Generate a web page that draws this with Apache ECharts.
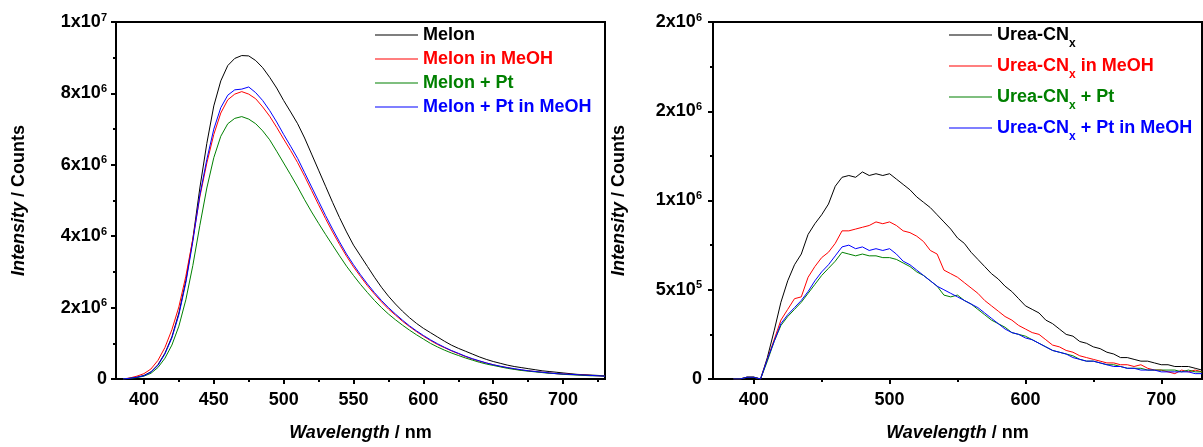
<!DOCTYPE html>
<html>
<head>
<meta charset="utf-8">
<script src="https://cdn.jsdelivr.net/npm/echarts@6/dist/echarts.min.js"></script>
<style>
html,body{margin:0;padding:0;background:#fff;}
#chart{width:1203px;height:447px;}
</style>
</head>
<body>
<div id="chart"></div>
<script>
// ---------- data (intensity in units of 10^6 counts) ----------
const wavelengths = [385,390,395,400,405,410,415,420,425,430,435,440,445,450,455,460,465,470,475,480,485,490,495,500,505,510,515,520,525,530,535,540,545,550,555,560,565,570,575,580,585,590,595,600,605,610,615,620,625,630,635,640,645,650,655,660,665,670,675,680,685,690,695,700,705,710,715,720,725,730];

const melon = [0.00,0.02,0.05,0.10,0.20,0.40,0.72,1.18,1.85,2.75,3.92,5.35,6.60,7.65,8.35,8.78,8.98,9.06,9.05,8.92,8.72,8.45,8.15,7.80,7.48,7.15,6.75,6.30,5.85,5.40,4.95,4.52,4.12,3.75,3.45,3.15,2.85,2.57,2.32,2.10,1.90,1.72,1.56,1.42,1.30,1.18,1.06,0.95,0.86,0.78,0.70,0.62,0.55,0.49,0.44,0.39,0.35,0.32,0.29,0.26,0.23,0.21,0.19,0.17,0.15,0.13,0.12,0.11,0.10,0.09];
const melonMeOH = [0.00,0.03,0.08,0.15,0.28,0.52,0.88,1.38,2.02,2.88,3.92,5.10,6.05,6.85,7.45,7.82,7.98,8.05,7.98,7.85,7.62,7.36,7.05,6.72,6.40,6.06,5.68,5.28,4.88,4.49,4.12,3.77,3.44,3.14,2.87,2.61,2.38,2.16,1.96,1.79,1.62,1.47,1.33,1.20,1.08,0.97,0.88,0.79,0.71,0.63,0.56,0.50,0.45,0.40,0.35,0.32,0.28,0.25,0.23,0.21,0.19,0.17,0.15,0.14,0.13,0.12,0.11,0.10,0.09,0.08];
const melonPt = [0.00,0.02,0.04,0.08,0.16,0.32,0.58,0.95,1.48,2.22,3.18,4.30,5.35,6.20,6.80,7.15,7.30,7.35,7.28,7.15,6.95,6.70,6.38,6.05,5.72,5.38,5.02,4.68,4.36,4.05,3.75,3.45,3.16,2.90,2.65,2.42,2.20,2.00,1.82,1.66,1.51,1.37,1.24,1.12,1.00,0.90,0.81,0.73,0.66,0.59,0.53,0.47,0.42,0.38,0.34,0.30,0.27,0.24,0.22,0.20,0.18,0.16,0.15,0.13,0.12,0.11,0.10,0.09,0.09,0.08];
const melonPtMeOH = [0.00,0.02,0.05,0.09,0.19,0.38,0.70,1.15,1.80,2.70,3.85,5.15,6.15,7.00,7.60,7.95,8.10,8.12,8.18,8.02,7.80,7.52,7.20,6.85,6.52,6.18,5.78,5.38,4.98,4.58,4.20,3.84,3.50,3.20,2.92,2.66,2.42,2.20,2.00,1.82,1.65,1.49,1.35,1.22,1.10,0.99,0.89,0.80,0.72,0.64,0.57,0.51,0.45,0.40,0.36,0.32,0.29,0.26,0.23,0.21,0.19,0.17,0.15,0.14,0.13,0.12,0.11,0.10,0.09,0.08];

const urea = [0.00,0.00,0.01,0.01,0.00,0.12,0.27,0.43,0.55,0.64,0.70,0.81,0.87,0.92,0.98,1.08,1.13,1.14,1.13,1.16,1.14,1.15,1.14,1.15,1.12,1.09,1.06,1.02,0.99,0.96,0.92,0.88,0.84,0.79,0.76,0.71,0.67,0.63,0.59,0.56,0.52,0.49,0.45,0.41,0.39,0.37,0.33,0.31,0.28,0.25,0.24,0.21,0.20,0.18,0.17,0.15,0.14,0.12,0.12,0.11,0.10,0.10,0.09,0.08,0.08,0.07,0.07,0.07,0.06,0.05];
const ureaMeOH = [0.00,0.00,0.01,0.01,0.00,0.11,0.22,0.33,0.39,0.45,0.46,0.57,0.63,0.68,0.71,0.76,0.83,0.83,0.84,0.85,0.86,0.88,0.87,0.88,0.86,0.83,0.82,0.80,0.77,0.72,0.70,0.61,0.59,0.57,0.54,0.51,0.48,0.44,0.41,0.38,0.35,0.33,0.30,0.28,0.26,0.25,0.22,0.19,0.18,0.16,0.15,0.13,0.12,0.11,0.10,0.09,0.09,0.08,0.08,0.07,0.08,0.06,0.05,0.05,0.04,0.03,0.05,0.04,0.05,0.04];
const ureaPt = [0.00,0.00,0.01,0.01,0.00,0.10,0.21,0.30,0.35,0.39,0.43,0.48,0.53,0.58,0.62,0.66,0.71,0.70,0.69,0.70,0.69,0.69,0.68,0.68,0.67,0.65,0.63,0.60,0.58,0.55,0.52,0.47,0.46,0.47,0.44,0.42,0.39,0.36,0.33,0.31,0.29,0.26,0.25,0.24,0.22,0.20,0.18,0.16,0.15,0.14,0.13,0.11,0.10,0.10,0.09,0.08,0.08,0.07,0.06,0.06,0.06,0.05,0.05,0.05,0.05,0.05,0.04,0.05,0.04,0.04];
const ureaPtMeOH = [0.00,0.00,0.01,0.01,0.00,0.11,0.21,0.31,0.36,0.40,0.44,0.49,0.55,0.60,0.64,0.69,0.74,0.75,0.73,0.74,0.72,0.73,0.72,0.73,0.70,0.66,0.64,0.61,0.58,0.55,0.52,0.50,0.48,0.46,0.44,0.42,0.40,0.37,0.34,0.31,0.28,0.26,0.25,0.23,0.22,0.20,0.18,0.16,0.15,0.14,0.12,0.11,0.10,0.10,0.09,0.08,0.07,0.07,0.06,0.06,0.05,0.05,0.05,0.04,0.04,0.04,0.04,0.04,0.03,0.03];

// ---------- tick labels ----------
const leftXMajor = [400,450,500,550,600,650,700];
const leftXMinor = [425,475,525,575,625,675,725];
const rightXMajor = [400,500,600,700];
const rightXMinor = [450,550,650];
const leftYTicks = [0,2,4,6,8,10];
const leftYMant = ['0','2x10','4x10','6x10','8x10','1x10'];
const leftYExp = ['','6','6','6','6','7'];
const rightYTicks = [0,0.5,1,1.5,2];
const rightYMant = ['0','5x10','1x10','2x10','2x10'];
const rightYExp = ['','5','6','6','6'];

const leftNames = ['Melon','Melon in MeOH','Melon + Pt','Melon + Pt in MeOH'];
const rightNames = ['Urea-CNx','Urea-CNx in MeOH','Urea-CNx + Pt','Urea-CNx + Pt in MeOH'];
const rightNameTail = ['',' in MeOH',' + Pt',' + Pt in MeOH'];
const colors = ['#000000','#ff0000','#008000','#0000ff'];

// ---------- helpers ----------
const FONT = 'Liberation Sans, Arial, Helvetica, sans-serif';
function pairs(ys){ return wavelengths.map((x,i)=>[x, ys[i]]); }
function expFormatter(ticks, mant, exp){
  return function(v){
    const i = ticks.findIndex(t => Math.abs(t - v) < 1e-6);
    if (i < 0) return '';
    return exp[i] ? '{m|' + mant[i] + '}{e|' + exp[i] + '}' : '{m|' + mant[i] + '}';
  };
}
const yRich = {
  m: {fontSize: 18, fontWeight: 'bold', fontFamily: FONT, color: '#000', lineHeight: 20},
  e: {fontSize: 11, fontWeight: 'bold', fontFamily: FONT, color: '#000', lineHeight: 11, verticalAlign: 'top'}
};
const nameStyle = (extra) => Object.assign({
  fontSize: 18, fontWeight: 'bold', fontFamily: FONT, color: '#000',
  rich: {i: {fontSize: 18, fontWeight: 'bold', fontStyle: 'italic', fontFamily: FONT, color: '#000'}}
}, extra || {});

function xMain(grid, min, max, major){
  return {
    type: 'value', gridIndex: grid, min: min, max: max, position: 'bottom',
    splitLine: {show: false},
    axisLine: {show: true, onZero: false, lineStyle: {color: '#000', width: 2}},
    axisTick: {show: true, inside: false, length: 5, lineStyle: {color: '#000', width: 2}, customValues: major},
    axisLabel: {show: true, margin: 12, fontSize: 18, fontWeight: 'bold', fontFamily: FONT, color: '#000', customValues: major, formatter: v => String(v)},
    name: '{i|Wavelength} / nm', nameLocation: 'middle', nameGap: 45, nameTextStyle: nameStyle()
  };
}
function xMinor(grid, min, max, minor){
  return {
    type: 'value', gridIndex: grid, min: min, max: max, position: 'bottom',
    splitLine: {show: false},
    axisLine: {show: false, onZero: false},
    axisTick: {show: true, inside: false, length: 3, lineStyle: {color: '#000', width: 2}, customValues: minor},
    axisLabel: {show: false}
  };
}
function yAxis(grid, max, interval, ticks, mant, exp, margin, gap){
  return {
    type: 'value', gridIndex: grid, min: 0, max: max, interval: interval,
    splitLine: {show: false},
    axisLine: {show: true, onZero: false, lineStyle: {color: '#000', width: 2}},
    axisTick: {show: true, inside: false, length: 5, lineStyle: {color: '#000', width: 2}},
    minorTick: {show: true, splitNumber: 2, length: 3, lineStyle: {color: '#000', width: 2}},
    axisLabel: {margin: margin, formatter: expFormatter(ticks, mant, exp), rich: yRich},
    name: '{i|Intensity} / Counts', nameLocation: 'middle', nameGap: gap, nameTextStyle: nameStyle()
  };
}

const leftSeriesData = [melon, melonMeOH, melonPt, melonPtMeOH];
const rightSeriesData = [urea, ureaMeOH, ureaPt, ureaPtMeOH];
const series = [];
leftSeriesData.forEach((d,i)=>series.push({
  name: leftNames[i], type: 'line', xAxisIndex: 0, yAxisIndex: 0, data: pairs(d),
  showSymbol: false, symbol: 'none', lineStyle: {width: 1, color: colors[i]}, itemStyle: {color: colors[i]}
}));
rightSeriesData.forEach((d,i)=>series.push({
  name: rightNames[i], type: 'line', xAxisIndex: 2, yAxisIndex: 1, data: pairs(d),
  showSymbol: false, symbol: 'none', lineStyle: {width: 1, color: colors[i]}, itemStyle: {color: colors[i]}
}));

const chart = echarts.init(document.getElementById('chart'), null, {renderer: 'canvas'});
chart.setOption({
  animation: false,
  backgroundColor: '#fff',
  grid: [
    {left: 116, top: 22, width: 489, height: 360, show: true, borderColor: '#000', borderWidth: 2, backgroundColor: 'transparent'},
    {left: 713, top: 22, width: 489, height: 359, show: true, borderColor: '#000', borderWidth: 2, backgroundColor: 'transparent'}
  ],
  xAxis: [
    xMain(0, 380, 730, leftXMajor),
    xMinor(0, 380, 730, leftXMinor),
    xMain(1, 370, 730, rightXMajor),
    xMinor(1, 370, 730, rightXMinor)
  ],
  yAxis: [
    yAxis(0, 10, 2, leftYTicks, leftYMant, leftYExp, 9, 88),
    yAxis(1, 2, 0.5, rightYTicks, rightYMant, rightYExp, 11, 85)
  ],
  legend: [
    {
      orient: 'vertical', left: 375, top: 25, padding: 0, itemWidth: 43, itemHeight: 12, itemGap: 4,
      selectedMode: false,
      textStyle: {fontSize: 18, fontWeight: 'bold', fontFamily: FONT, lineHeight: 20},
      data: leftNames.map((n,i)=>({name: n, icon: 'path://M0,0 L43,0 L43,1 L0,1 Z', itemStyle: {color: colors[i]}, textStyle: {color: colors[i]}}))
    },
    {
      orient: 'vertical', left: 949, top: 20, padding: 0, itemWidth: 43, itemHeight: 12, itemGap: 1,
      selectedMode: false,
      textStyle: {fontSize: 18, fontWeight: 'bold', fontFamily: FONT, lineHeight: 30},
      formatter: function(name){
        const i = rightNames.indexOf(name);
        return '{a|Urea-CN}{s|x}' + (rightNameTail[i] ? '{a|' + rightNameTail[i] + '}' : '');
      },
      data: rightNames.map((n,i)=>({name: n, icon: 'path://M0,0 L43,0 L43,1 L0,1 Z', itemStyle: {color: colors[i]},
        textStyle: {color: colors[i], rich: {
          a: {color: colors[i], fontSize: 18, fontWeight: 'bold', fontFamily: FONT, lineHeight: 30},
          s: {color: colors[i], fontSize: 12, fontWeight: 'bold', fontFamily: FONT, lineHeight: 12, verticalAlign: 'bottom'}
        }}}))
    }
  ],
  series: series
});
</script>
</body>
</html>
